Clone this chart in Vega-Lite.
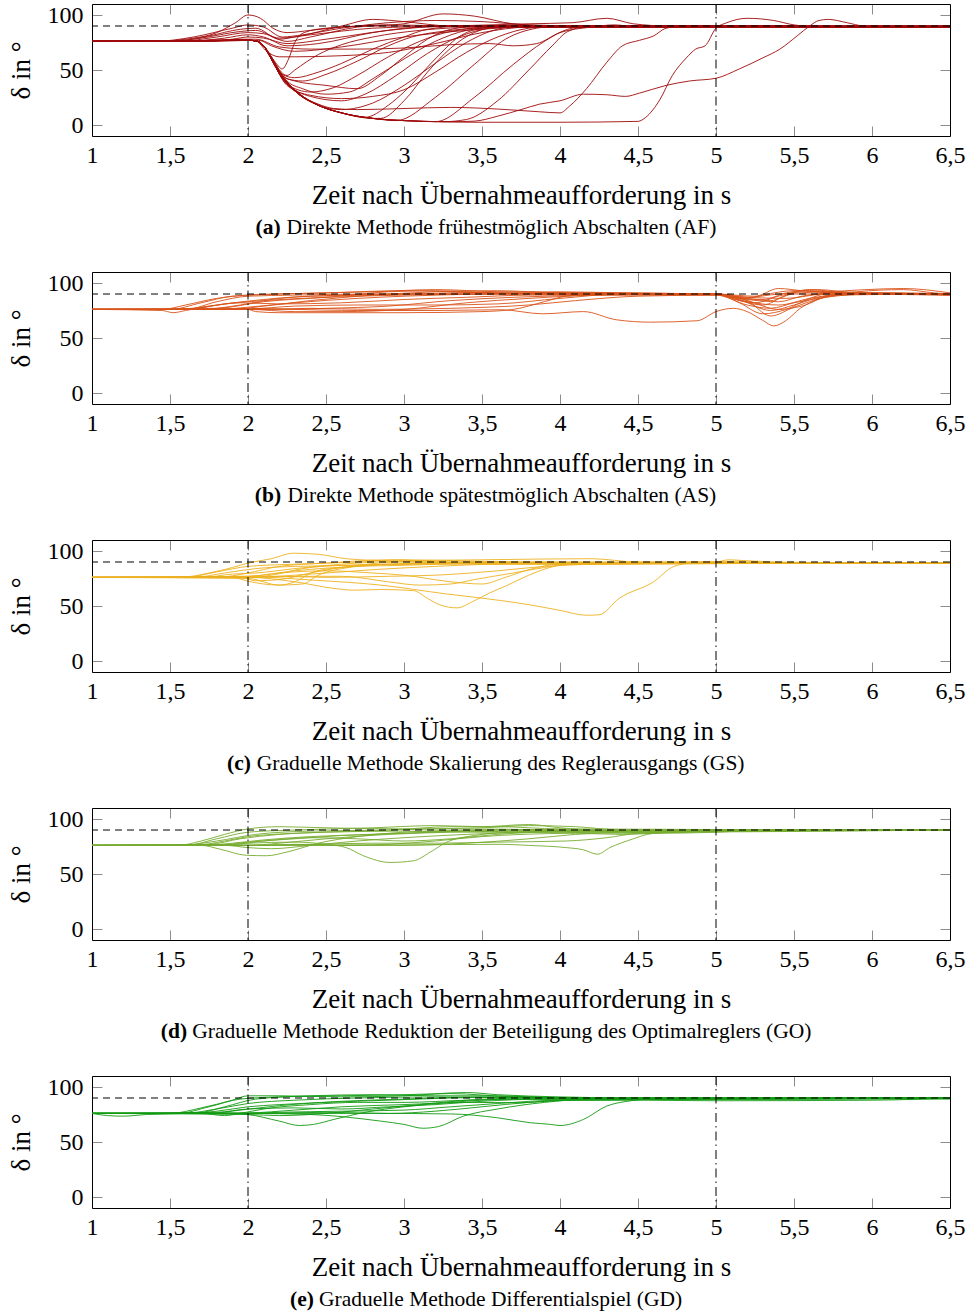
{
"$schema": "https://vega.github.io/schema/vega-lite/v6.json",
"background": "white",
"padding": {"left": 7, "top": 3, "right": 1, "bottom": 5},
"spacing": 32,
"config": {
  "font": "Liberation Serif",
  "view": {"stroke": null},
  "axis": {"labelFont": "Liberation Serif", "labelFontSize": 24, "labelColor": "black", "titleFont": "Liberation Serif", "titleFontSize": 27, "titleFontWeight": "normal", "titleColor": "black", "domainColor": "black", "domainWidth": 1, "tickColor": "#8c8c8c", "tickSize": -10, "tickWidth": 1, "grid": false, "labelFlush": false, "labelOverlap": false},
  "axisX": {"labelPadding": 17, "titlePadding": 15},
  "axisY": {"labelPadding": 19, "titlePadding": 12},
  "title": {"font": "Liberation Serif", "fontSize": 21.5, "fontWeight": "normal", "color": "black"}
},
"datasets": {
"a": [
{"c":1,"t":1,"d":76},{"c":1,"t":1.4,"d":76},{"c":1,"t":1.6,"d":78},{"c":1,"t":1.8,"d":84},{"c":1,"t":1.92,"d":93},{"c":1,"t":2,"d":100},{"c":1,"t":2.08,"d":97},{"c":1,"t":2.16,"d":88},{"c":1,"t":2.25,"d":84},{"c":1,"t":2.4,"d":86},{"c":1,"t":2.6,"d":89},{"c":1,"t":2.9,"d":91},{"c":1,"t":3.3,"d":90},{"c":1,"t":4,"d":89.5},{"c":1,"t":6.5,"d":89},
{"c":2,"t":1,"d":76},{"c":2,"t":1.4,"d":76},{"c":2,"t":1.65,"d":80},{"c":2,"t":1.9,"d":88},{"c":2,"t":2,"d":91},{"c":2,"t":2.1,"d":89},{"c":2,"t":2.22,"d":80},{"c":2,"t":2.35,"d":82},{"c":2,"t":2.6,"d":88},{"c":2,"t":2.9,"d":93},{"c":2,"t":3.2,"d":95},{"c":2,"t":3.5,"d":94},{"c":2,"t":3.8,"d":91},{"c":2,"t":4.2,"d":90},{"c":2,"t":6.5,"d":90},
{"c":3,"t":1,"d":76},{"c":3,"t":1.5,"d":76},{"c":3,"t":1.75,"d":81},{"c":3,"t":1.95,"d":87},{"c":3,"t":2.05,"d":88},{"c":3,"t":2.2,"d":78},{"c":3,"t":2.3,"d":80},{"c":3,"t":2.6,"d":90},{"c":3,"t":2.8,"d":96},{"c":3,"t":3,"d":94},{"c":3,"t":3.3,"d":90},{"c":3,"t":6.5,"d":90},
{"c":4,"t":1,"d":76},{"c":4,"t":1.55,"d":76},{"c":4,"t":1.8,"d":80},{"c":4,"t":2,"d":84},{"c":4,"t":2.1,"d":83},{"c":4,"t":2.25,"d":76},{"c":4,"t":2.4,"d":80},{"c":4,"t":2.7,"d":89},{"c":4,"t":3,"d":92},{"c":4,"t":3.25,"d":101},{"c":4,"t":3.45,"d":99},{"c":4,"t":3.7,"d":92},{"c":4,"t":4,"d":90},{"c":4,"t":6.5,"d":90},
{"c":5,"t":1,"d":76},{"c":5,"t":1.6,"d":76},{"c":5,"t":1.85,"d":79},{"c":5,"t":2,"d":82},{"c":5,"t":2.1,"d":80},{"c":5,"t":2.25,"d":72},{"c":5,"t":2.45,"d":74},{"c":5,"t":2.8,"d":84},{"c":5,"t":3.1,"d":89},{"c":5,"t":3.5,"d":90},{"c":5,"t":6.5,"d":90},
{"c":6,"t":1,"d":76},{"c":6,"t":1.7,"d":76},{"c":6,"t":1.9,"d":78},{"c":6,"t":2,"d":80},{"c":6,"t":2.1,"d":79},{"c":6,"t":2.25,"d":74},{"c":6,"t":2.5,"d":78},{"c":6,"t":2.9,"d":86},{"c":6,"t":3.3,"d":90},{"c":6,"t":6.5,"d":89},
{"c":7,"t":1,"d":76},{"c":7,"t":1.75,"d":76},{"c":7,"t":1.95,"d":78},{"c":7,"t":2.05,"d":78},{"c":7,"t":2.2,"d":71},{"c":7,"t":2.4,"d":69},{"c":7,"t":2.7,"d":69},{"c":7,"t":3,"d":70},{"c":7,"t":3.3,"d":73},{"c":7,"t":3.55,"d":74},{"c":7,"t":3.7,"d":72},{"c":7,"t":3.85,"d":74},{"c":7,"t":4,"d":84},{"c":7,"t":4.2,"d":89},{"c":7,"t":4.35,"d":91},{"c":7,"t":4.5,"d":89},{"c":7,"t":6.5,"d":89},
{"c":8,"t":1,"d":76},{"c":8,"t":1.8,"d":76},{"c":8,"t":2,"d":77},{"c":8,"t":2.07,"d":77},{"c":8,"t":2.15,"d":72},{"c":8,"t":2.3,"d":67},{"c":8,"t":2.6,"d":71},{"c":8,"t":3,"d":80},{"c":8,"t":3.4,"d":86},{"c":8,"t":3.8,"d":89},{"c":8,"t":6.5,"d":89},
{"c":9,"t":1,"d":76},{"c":9,"t":1.5,"d":76},{"c":9,"t":1.7,"d":79},{"c":9,"t":1.95,"d":85},{"c":9,"t":2.05,"d":86},{"c":9,"t":2.2,"d":79},{"c":9,"t":2.4,"d":82},{"c":9,"t":2.8,"d":88},{"c":9,"t":3.3,"d":90},{"c":9,"t":3.8,"d":92},{"c":9,"t":4.08,"d":93},{"c":9,"t":4.3,"d":97},{"c":9,"t":4.47,"d":92},{"c":9,"t":4.7,"d":90},{"c":9,"t":6.5,"d":90},
{"c":10,"t":1,"d":76},{"c":10,"t":2,"d":77},{"c":10,"t":2.05,"d":76.5},{"c":10,"t":2.1,"d":72},{"c":10,"t":2.15,"d":60},{"c":10,"t":2.2,"d":48},{"c":10,"t":2.3,"d":32},{"c":10,"t":2.45,"d":18},{"c":10,"t":2.6,"d":11},{"c":10,"t":2.8,"d":6},{"c":10,"t":3,"d":4},{"c":10,"t":3.5,"d":2.5},{"c":10,"t":4,"d":2.5},{"c":10,"t":4.5,"d":3.3},{"c":10,"t":4.55,"d":7},{"c":10,"t":4.64,"d":23},{"c":10,"t":4.72,"d":45},{"c":10,"t":4.81,"d":61},{"c":10,"t":4.87,"d":69},{"c":10,"t":4.93,"d":72},{"c":10,"t":5,"d":88},{"c":10,"t":5.07,"d":93},{"c":10,"t":5.2,"d":97},{"c":10,"t":5.37,"d":95},{"c":10,"t":5.5,"d":91},{"c":10,"t":5.7,"d":89},{"c":10,"t":6.5,"d":89},
{"c":11,"t":1,"d":76},{"c":11,"t":2,"d":77},{"c":11,"t":2.05,"d":76.5},{"c":11,"t":2.1,"d":72},{"c":11,"t":2.15,"d":60},{"c":11,"t":2.2,"d":47},{"c":11,"t":2.3,"d":31},{"c":11,"t":2.45,"d":18},{"c":11,"t":2.6,"d":11},{"c":11,"t":2.8,"d":6},{"c":11,"t":3,"d":4},{"c":11,"t":3.3,"d":3},{"c":11,"t":3.45,"d":3.5},{"c":11,"t":3.6,"d":8},{"c":11,"t":3.75,"d":14},{"c":11,"t":3.87,"d":19},{"c":11,"t":4,"d":22},{"c":11,"t":4.15,"d":28},{"c":11,"t":4.3,"d":27.5},{"c":11,"t":4.42,"d":26},{"c":11,"t":4.51,"d":29},{"c":11,"t":4.68,"d":36},{"c":11,"t":4.83,"d":40},{"c":11,"t":5,"d":42.5},{"c":11,"t":5.15,"d":51},{"c":11,"t":5.3,"d":61},{"c":11,"t":5.41,"d":69},{"c":11,"t":5.52,"d":81},{"c":11,"t":5.6,"d":90},{"c":11,"t":5.66,"d":95},{"c":11,"t":5.72,"d":96},{"c":11,"t":5.84,"d":93},{"c":11,"t":5.95,"d":90},{"c":11,"t":6.5,"d":89},
{"c":12,"t":1,"d":76},{"c":12,"t":2,"d":77},{"c":12,"t":2.05,"d":76.5},{"c":12,"t":2.1,"d":72},{"c":12,"t":2.15,"d":60},{"c":12,"t":2.2,"d":47},{"c":12,"t":2.3,"d":31},{"c":12,"t":2.45,"d":19},{"c":12,"t":2.55,"d":15},{"c":12,"t":2.7,"d":14},{"c":12,"t":3,"d":15},{"c":12,"t":3.3,"d":16},{"c":12,"t":3.6,"d":14.5},{"c":12,"t":3.87,"d":12},{"c":12,"t":4,"d":11},{"c":12,"t":4.06,"d":17},{"c":12,"t":4.17,"d":33},{"c":12,"t":4.3,"d":57},{"c":12,"t":4.4,"d":72},{"c":12,"t":4.51,"d":77},{"c":12,"t":4.6,"d":81},{"c":12,"t":4.68,"d":88},{"c":12,"t":4.8,"d":90},{"c":12,"t":6.5,"d":89},
{"c":13,"t":1,"d":76},{"c":13,"t":2,"d":77},{"c":13,"t":2.05,"d":76.5},{"c":13,"t":2.1,"d":72},{"c":13,"t":2.15,"d":60},{"c":13,"t":2.2,"d":47},{"c":13,"t":2.3,"d":31},{"c":13,"t":2.45,"d":18},{"c":13,"t":2.6,"d":11},{"c":13,"t":2.75,"d":7},{"c":13,"t":2.9,"d":18},{"c":13,"t":3,"d":30},{"c":13,"t":3.2,"d":60},{"c":13,"t":3.35,"d":80},{"c":13,"t":3.5,"d":88},{"c":13,"t":3.7,"d":90},{"c":13,"t":6.5,"d":89},
{"c":14,"t":1,"d":76},{"c":14,"t":2,"d":77},{"c":14,"t":2.05,"d":76.5},{"c":14,"t":2.1,"d":72},{"c":14,"t":2.15,"d":60},{"c":14,"t":2.2,"d":48},{"c":14,"t":2.3,"d":32},{"c":14,"t":2.45,"d":18},{"c":14,"t":2.6,"d":11},{"c":14,"t":2.8,"d":6},{"c":14,"t":2.95,"d":4},{"c":14,"t":3.2,"d":25},{"c":14,"t":3.45,"d":55},{"c":14,"t":3.65,"d":78},{"c":14,"t":3.85,"d":88},{"c":14,"t":4,"d":90},{"c":14,"t":6.5,"d":89},
{"c":15,"t":1,"d":76},{"c":15,"t":2,"d":77},{"c":15,"t":2.05,"d":76.5},{"c":15,"t":2.1,"d":72},{"c":15,"t":2.15,"d":60},{"c":15,"t":2.2,"d":47},{"c":15,"t":2.3,"d":31},{"c":15,"t":2.45,"d":18},{"c":15,"t":2.6,"d":11},{"c":15,"t":2.8,"d":6},{"c":15,"t":3,"d":4},{"c":15,"t":3.2,"d":3},{"c":15,"t":3.45,"d":25},{"c":15,"t":3.7,"d":55},{"c":15,"t":3.9,"d":76},{"c":15,"t":4.05,"d":87},{"c":15,"t":4.2,"d":90},{"c":15,"t":6.5,"d":89},
{"c":16,"t":1,"d":76},{"c":16,"t":2,"d":77},{"c":16,"t":2.05,"d":76.5},{"c":16,"t":2.1,"d":72},{"c":16,"t":2.15,"d":60},{"c":16,"t":2.2,"d":48},{"c":16,"t":2.3,"d":32},{"c":16,"t":2.45,"d":18},{"c":16,"t":2.6,"d":11},{"c":16,"t":2.8,"d":6},{"c":16,"t":3,"d":4},{"c":16,"t":3.25,"d":3},{"c":16,"t":3.4,"d":5},{"c":16,"t":3.6,"d":22},{"c":16,"t":3.8,"d":50},{"c":16,"t":3.95,"d":72},{"c":16,"t":4.05,"d":85},{"c":16,"t":4.2,"d":90},{"c":16,"t":6.5,"d":89},
{"c":17,"t":1,"d":76},{"c":17,"t":2,"d":77},{"c":17,"t":2.05,"d":76.5},{"c":17,"t":2.1,"d":72},{"c":17,"t":2.15,"d":60},{"c":17,"t":2.2,"d":47},{"c":17,"t":2.3,"d":31},{"c":17,"t":2.45,"d":18},{"c":17,"t":2.6,"d":11},{"c":17,"t":2.8,"d":6},{"c":17,"t":2.85,"d":6},{"c":17,"t":3,"d":22},{"c":17,"t":3.15,"d":48},{"c":17,"t":3.3,"d":70},{"c":17,"t":3.45,"d":84},{"c":17,"t":3.6,"d":89},{"c":17,"t":6.5,"d":89},
{"c":18,"t":1,"d":76},{"c":18,"t":2,"d":77},{"c":18,"t":2.05,"d":76.5},{"c":18,"t":2.1,"d":72},{"c":18,"t":2.17,"d":58},{"c":18,"t":2.22,"d":51},{"c":18,"t":2.26,"d":60},{"c":18,"t":2.3,"d":75},{"c":18,"t":2.36,"d":84},{"c":18,"t":2.5,"d":88},{"c":18,"t":2.8,"d":90},{"c":18,"t":6.5,"d":89},
{"c":19,"t":1,"d":76},{"c":19,"t":2,"d":77},{"c":19,"t":2.05,"d":76.5},{"c":19,"t":2.1,"d":72},{"c":19,"t":2.15,"d":62},{"c":19,"t":2.22,"d":46},{"c":19,"t":2.3,"d":43},{"c":19,"t":2.45,"d":48},{"c":19,"t":2.6,"d":56},{"c":19,"t":2.8,"d":69},{"c":19,"t":3,"d":80},{"c":19,"t":3.15,"d":87},{"c":19,"t":3.4,"d":90},{"c":19,"t":6.5,"d":89},
{"c":20,"t":1,"d":76},{"c":20,"t":2,"d":77},{"c":20,"t":2.05,"d":76.5},{"c":20,"t":2.1,"d":72},{"c":20,"t":2.15,"d":62},{"c":20,"t":2.22,"d":45},{"c":20,"t":2.3,"d":40},{"c":20,"t":2.5,"d":36},{"c":20,"t":2.7,"d":33},{"c":20,"t":2.85,"d":45},{"c":20,"t":3,"d":62},{"c":20,"t":3.15,"d":78},{"c":20,"t":3.3,"d":87},{"c":20,"t":3.5,"d":90},{"c":20,"t":6.5,"d":89},
{"c":21,"t":1,"d":76},{"c":21,"t":2,"d":77},{"c":21,"t":2.05,"d":76.5},{"c":21,"t":2.1,"d":72},{"c":21,"t":2.15,"d":61},{"c":21,"t":2.25,"d":40},{"c":21,"t":2.35,"d":33},{"c":21,"t":2.5,"d":28},{"c":21,"t":2.65,"d":30},{"c":21,"t":2.8,"d":42},{"c":21,"t":3,"d":60},{"c":21,"t":3.2,"d":76},{"c":21,"t":3.4,"d":86},{"c":21,"t":3.6,"d":89},{"c":21,"t":6.5,"d":89},
{"c":22,"t":1,"d":76},{"c":22,"t":2,"d":77},{"c":22,"t":2.05,"d":76.5},{"c":22,"t":2.1,"d":72},{"c":22,"t":2.15,"d":60},{"c":22,"t":2.25,"d":38},{"c":22,"t":2.4,"d":26},{"c":22,"t":2.6,"d":22},{"c":22,"t":2.75,"d":28},{"c":22,"t":2.95,"d":45},{"c":22,"t":3.15,"d":65},{"c":22,"t":3.35,"d":80},{"c":22,"t":3.55,"d":88},{"c":22,"t":3.8,"d":90},{"c":22,"t":6.5,"d":89},
{"c":23,"t":1,"d":76},{"c":23,"t":2,"d":77},{"c":23,"t":2.05,"d":76.5},{"c":23,"t":2.1,"d":72},{"c":23,"t":2.15,"d":61},{"c":23,"t":2.25,"d":42},{"c":23,"t":2.35,"d":40},{"c":23,"t":2.5,"d":46},{"c":23,"t":2.7,"d":58},{"c":23,"t":2.9,"d":72},{"c":23,"t":3.05,"d":80},{"c":23,"t":3.3,"d":86},{"c":23,"t":3.6,"d":89},{"c":23,"t":6.5,"d":89},
{"c":24,"t":1,"d":76},{"c":24,"t":2,"d":77},{"c":24,"t":2.05,"d":76.5},{"c":24,"t":2.1,"d":72},{"c":24,"t":2.15,"d":60},{"c":24,"t":2.25,"d":37},{"c":24,"t":2.4,"d":30},{"c":24,"t":2.55,"d":34},{"c":24,"t":2.7,"d":45},{"c":24,"t":2.9,"d":62},{"c":24,"t":3.1,"d":76},{"c":24,"t":3.3,"d":85},{"c":24,"t":3.6,"d":89},{"c":24,"t":6.5,"d":89},
{"c":25,"t":1,"d":76},{"c":25,"t":2,"d":77},{"c":25,"t":2.05,"d":76.5},{"c":25,"t":2.1,"d":72},{"c":25,"t":2.15,"d":61},{"c":25,"t":2.25,"d":45},{"c":25,"t":2.3,"d":50},{"c":25,"t":2.45,"d":64},{"c":25,"t":2.6,"d":73},{"c":25,"t":2.8,"d":80},{"c":25,"t":3.1,"d":86},{"c":25,"t":3.5,"d":89},{"c":25,"t":6.5,"d":89},
{"c":26,"t":1,"d":76},{"c":26,"t":2,"d":77},{"c":26,"t":2.05,"d":76.5},{"c":26,"t":2.12,"d":67},{"c":26,"t":2.2,"d":62},{"c":26,"t":2.3,"d":62},{"c":26,"t":2.6,"d":63},{"c":26,"t":2.9,"d":66},{"c":26,"t":3.2,"d":74},{"c":26,"t":3.5,"d":84},{"c":26,"t":3.8,"d":89},{"c":26,"t":6.5,"d":89},
{"c":27,"t":1,"d":76},{"c":27,"t":2,"d":77},{"c":27,"t":2.05,"d":76.5},{"c":27,"t":2.1,"d":72},{"c":27,"t":2.15,"d":60},{"c":27,"t":2.25,"d":36},{"c":27,"t":2.4,"d":27},{"c":27,"t":2.6,"d":24},{"c":27,"t":2.8,"d":26},{"c":27,"t":3,"d":32},{"c":27,"t":3.2,"d":48},{"c":27,"t":3.4,"d":66},{"c":27,"t":3.6,"d":80},{"c":27,"t":3.8,"d":88},{"c":27,"t":4,"d":90},{"c":27,"t":6.5,"d":89},
{"c":28,"t":1,"d":76},{"c":28,"t":2,"d":77},{"c":28,"t":2.05,"d":76.5},{"c":28,"t":2.1,"d":72},{"c":28,"t":2.15,"d":60},{"c":28,"t":2.2,"d":47},{"c":28,"t":2.3,"d":31},{"c":28,"t":2.45,"d":18},{"c":28,"t":2.6,"d":14},{"c":28,"t":2.8,"d":20},{"c":28,"t":3,"d":36},{"c":28,"t":3.2,"d":56},{"c":28,"t":3.4,"d":75},{"c":28,"t":3.55,"d":85},{"c":28,"t":3.75,"d":90},{"c":28,"t":6.5,"d":89}
],
"b": [
{"c":1,"t":1,"d":76},{"c":1,"t":1.45,"d":76},{"c":1,"t":1.6,"d":80},{"c":1,"t":1.8,"d":86},{"c":1,"t":2,"d":89},{"c":1,"t":2.5,"d":91},{"c":1,"t":3,"d":93},{"c":1,"t":3.5,"d":91},{"c":1,"t":4,"d":90},{"c":1,"t":5,"d":89.5},{"c":1,"t":5.1,"d":86},{"c":1,"t":5.25,"d":82},{"c":1,"t":5.4,"d":88},{"c":1,"t":5.6,"d":93},{"c":1,"t":5.8,"d":91},{"c":1,"t":6.5,"d":89},
{"c":2,"t":1,"d":76},{"c":2,"t":1.5,"d":76},{"c":2,"t":1.7,"d":82},{"c":2,"t":1.9,"d":88},{"c":2,"t":2.2,"d":90},{"c":2,"t":2.8,"d":92},{"c":2,"t":3.2,"d":94},{"c":2,"t":3.6,"d":92},{"c":2,"t":4.2,"d":91},{"c":2,"t":5,"d":90},{"c":2,"t":5.15,"d":84},{"c":2,"t":5.3,"d":80},{"c":2,"t":5.45,"d":89},{"c":2,"t":5.6,"d":94},{"c":2,"t":5.9,"d":90},{"c":2,"t":6.5,"d":90},
{"c":3,"t":1,"d":76},{"c":3,"t":1.45,"d":75},{"c":3,"t":1.52,"d":73},{"c":3,"t":1.6,"d":75},{"c":3,"t":1.8,"d":80},{"c":3,"t":2.1,"d":84},{"c":3,"t":2.5,"d":87},{"c":3,"t":3,"d":89},{"c":3,"t":3.5,"d":90},{"c":3,"t":5,"d":90},{"c":3,"t":5.15,"d":85},{"c":3,"t":5.35,"d":75},{"c":3,"t":5.5,"d":80},{"c":3,"t":5.7,"d":88},{"c":3,"t":6,"d":90},{"c":3,"t":6.5,"d":89},
{"c":4,"t":1,"d":76},{"c":4,"t":1.6,"d":76},{"c":4,"t":1.85,"d":81},{"c":4,"t":2.1,"d":85},{"c":4,"t":2.4,"d":88},{"c":4,"t":2.8,"d":89},{"c":4,"t":3.3,"d":91},{"c":4,"t":4,"d":92},{"c":4,"t":4.4,"d":91},{"c":4,"t":5,"d":90},{"c":4,"t":5.2,"d":84},{"c":4,"t":5.35,"d":70},{"c":4,"t":5.5,"d":78},{"c":4,"t":5.7,"d":87},{"c":4,"t":6,"d":91},{"c":4,"t":6.5,"d":89},
{"c":5,"t":1,"d":76},{"c":5,"t":1.7,"d":76},{"c":5,"t":2,"d":77},{"c":5,"t":2.3,"d":76},{"c":5,"t":2.7,"d":75},{"c":5,"t":3.2,"d":75},{"c":5,"t":3.62,"d":75.7},{"c":5,"t":3.89,"d":72},{"c":5,"t":4.15,"d":74},{"c":5,"t":4.36,"d":66.6},{"c":5,"t":4.58,"d":64.4},{"c":5,"t":4.88,"d":65.7},{"c":5,"t":5,"d":74},{"c":5,"t":5.11,"d":77},{"c":5,"t":5.2,"d":74},{"c":5,"t":5.3,"d":66},{"c":5,"t":5.37,"d":61},{"c":5,"t":5.45,"d":66},{"c":5,"t":5.54,"d":77},{"c":5,"t":5.67,"d":86},{"c":5,"t":5.86,"d":91},{"c":5,"t":6.2,"d":91},{"c":5,"t":6.5,"d":90},
{"c":6,"t":1,"d":76},{"c":6,"t":1.8,"d":76},{"c":6,"t":2,"d":78},{"c":6,"t":2.3,"d":82},{"c":6,"t":2.7,"d":86},{"c":6,"t":3,"d":88},{"c":6,"t":3.5,"d":90},{"c":6,"t":4,"d":91},{"c":6,"t":5,"d":90},{"c":6,"t":5.15,"d":82},{"c":6,"t":5.3,"d":72},{"c":6,"t":5.45,"d":76},{"c":6,"t":5.6,"d":86},{"c":6,"t":5.8,"d":92},{"c":6,"t":6.1,"d":90},{"c":6,"t":6.5,"d":90},
{"c":7,"t":1,"d":76},{"c":7,"t":2,"d":76},{"c":7,"t":2.05,"d":74},{"c":7,"t":2.2,"d":73},{"c":7,"t":2.5,"d":73},{"c":7,"t":3,"d":73},{"c":7,"t":3.5,"d":74},{"c":7,"t":3.7,"d":76},{"c":7,"t":3.9,"d":83},{"c":7,"t":4.04,"d":88},{"c":7,"t":4.3,"d":90},{"c":7,"t":5,"d":90},{"c":7,"t":5.2,"d":86},{"c":7,"t":5.35,"d":84},{"c":7,"t":5.5,"d":90},{"c":7,"t":6.5,"d":90},
{"c":8,"t":1,"d":76},{"c":8,"t":1.9,"d":76},{"c":8,"t":2.1,"d":79},{"c":8,"t":2.4,"d":84},{"c":8,"t":2.8,"d":89},{"c":8,"t":3.2,"d":92},{"c":8,"t":3.6,"d":93},{"c":8,"t":4,"d":91},{"c":8,"t":5,"d":90},{"c":8,"t":5.25,"d":88},{"c":8,"t":5.4,"d":95},{"c":8,"t":5.55,"d":93},{"c":8,"t":5.9,"d":90},{"c":8,"t":6.5,"d":90},
{"c":9,"t":1,"d":76},{"c":9,"t":1.55,"d":76},{"c":9,"t":1.75,"d":79},{"c":9,"t":1.95,"d":82},{"c":9,"t":2.2,"d":81},{"c":9,"t":2.6,"d":82},{"c":9,"t":3,"d":85},{"c":9,"t":3.4,"d":87},{"c":9,"t":3.8,"d":89},{"c":9,"t":5,"d":89.5},{"c":9,"t":5.2,"d":83},{"c":9,"t":5.4,"d":80},{"c":9,"t":5.6,"d":86},{"c":9,"t":5.9,"d":92},{"c":9,"t":6.2,"d":94},{"c":9,"t":6.4,"d":91},{"c":9,"t":6.5,"d":90},
{"c":10,"t":1,"d":76},{"c":10,"t":2,"d":76.5},{"c":10,"t":2.3,"d":79},{"c":10,"t":2.7,"d":80},{"c":10,"t":3.2,"d":80},{"c":10,"t":3.6,"d":81},{"c":10,"t":4,"d":86},{"c":10,"t":4.4,"d":90},{"c":10,"t":5,"d":90},{"c":10,"t":5.2,"d":85},{"c":10,"t":5.4,"d":83},{"c":10,"t":5.55,"d":88},{"c":10,"t":5.75,"d":91},{"c":10,"t":6.5,"d":90},
{"c":11,"t":1,"d":76},{"c":11,"t":1.7,"d":76},{"c":11,"t":1.95,"d":80},{"c":11,"t":2.2,"d":86},{"c":11,"t":2.6,"d":89},{"c":11,"t":3,"d":90},{"c":11,"t":5,"d":90},{"c":11,"t":5.2,"d":87},{"c":11,"t":5.4,"d":90},{"c":11,"t":5.7,"d":92},{"c":11,"t":6.2,"d":95},{"c":11,"t":6.5,"d":91},
{"c":12,"t":1,"d":76},{"c":12,"t":2.1,"d":76},{"c":12,"t":2.4,"d":77},{"c":12,"t":2.8,"d":76},{"c":12,"t":3.3,"d":77},{"c":12,"t":3.8,"d":80},{"c":12,"t":4.1,"d":84},{"c":12,"t":4.5,"d":88},{"c":12,"t":5,"d":89},{"c":12,"t":5.2,"d":80},{"c":12,"t":5.35,"d":77},{"c":12,"t":5.5,"d":82},{"c":12,"t":5.7,"d":87},{"c":12,"t":6,"d":90},{"c":12,"t":6.5,"d":90},
{"c":13,"t":1,"d":76},{"c":13,"t":1.8,"d":77},{"c":13,"t":2.1,"d":83},{"c":13,"t":2.5,"d":87},{"c":13,"t":2.9,"d":92},{"c":13,"t":3.2,"d":93},{"c":13,"t":3.6,"d":91},{"c":13,"t":4,"d":90},{"c":13,"t":5,"d":89.5},{"c":13,"t":5.15,"d":86},{"c":13,"t":5.3,"d":85},{"c":13,"t":5.45,"d":91},{"c":13,"t":5.65,"d":94},{"c":13,"t":5.9,"d":91},{"c":13,"t":6.5,"d":90},
{"c":14,"t":1,"d":76},{"c":14,"t":2,"d":76},{"c":14,"t":2.3,"d":74},{"c":14,"t":2.6,"d":74},{"c":14,"t":3,"d":76},{"c":14,"t":3.4,"d":82},{"c":14,"t":3.8,"d":86},{"c":14,"t":4.3,"d":89},{"c":14,"t":5,"d":89},{"c":14,"t":5.2,"d":84},{"c":14,"t":5.4,"d":76},{"c":14,"t":5.55,"d":79},{"c":14,"t":5.75,"d":89},{"c":14,"t":6.5,"d":90},
{"c":15,"t":1,"d":76},{"c":15,"t":1.6,"d":76},{"c":15,"t":1.8,"d":83},{"c":15,"t":2,"d":88},{"c":15,"t":2.3,"d":89},{"c":15,"t":2.8,"d":90},{"c":15,"t":3.4,"d":90},{"c":15,"t":4.3,"d":90},{"c":15,"t":5,"d":90},{"c":15,"t":5.2,"d":86},{"c":15,"t":5.3,"d":89},{"c":15,"t":5.5,"d":93},{"c":15,"t":5.8,"d":91},{"c":15,"t":6.5,"d":90},
{"c":16,"t":1,"d":76},{"c":16,"t":2.2,"d":76},{"c":16,"t":2.5,"d":77},{"c":16,"t":2.9,"d":79},{"c":16,"t":3.3,"d":84},{"c":16,"t":3.7,"d":87},{"c":16,"t":4.2,"d":89},{"c":16,"t":5,"d":90},{"c":16,"t":5.2,"d":87},{"c":16,"t":5.45,"d":86},{"c":16,"t":5.7,"d":90},{"c":16,"t":6.5,"d":90}
],
"c": [
{"c":1,"t":1,"d":76},{"c":1,"t":1.56,"d":76},{"c":1,"t":1.75,"d":80},{"c":1,"t":1.9,"d":85},{"c":1,"t":2,"d":89},{"c":1,"t":2.15,"d":93},{"c":1,"t":2.29,"d":98},{"c":1,"t":2.45,"d":97},{"c":1,"t":2.63,"d":93},{"c":1,"t":2.9,"d":91},{"c":1,"t":3.5,"d":89},{"c":1,"t":6.5,"d":89},
{"c":2,"t":1,"d":76},{"c":2,"t":1.6,"d":76},{"c":2,"t":1.8,"d":81},{"c":2,"t":2,"d":86},{"c":2,"t":2.3,"d":88},{"c":2,"t":2.7,"d":90},{"c":2,"t":3,"d":92},{"c":2,"t":3.4,"d":91},{"c":2,"t":4,"d":89},{"c":2,"t":5,"d":90},{"c":2,"t":5.08,"d":92},{"c":2,"t":5.3,"d":90},{"c":2,"t":6.5,"d":89},
{"c":3,"t":1,"d":76},{"c":3,"t":1.65,"d":76},{"c":3,"t":1.85,"d":80},{"c":3,"t":2.05,"d":84},{"c":3,"t":2.3,"d":86},{"c":3,"t":2.7,"d":87},{"c":3,"t":3.1,"d":89},{"c":3,"t":3.6,"d":90},{"c":3,"t":6.5,"d":89},
{"c":4,"t":1,"d":76},{"c":4,"t":1.7,"d":76},{"c":4,"t":1.9,"d":79},{"c":4,"t":2.05,"d":80},{"c":4,"t":2.3,"d":84},{"c":4,"t":2.6,"d":88},{"c":4,"t":3,"d":91},{"c":4,"t":3.5,"d":92},{"c":4,"t":4.2,"d":93},{"c":4,"t":4.5,"d":90},{"c":4,"t":5,"d":90},{"c":4,"t":5.2,"d":91},{"c":4,"t":5.5,"d":89},{"c":4,"t":6.5,"d":89},
{"c":5,"t":1,"d":76},{"c":5,"t":2,"d":76.6},{"c":5,"t":2.42,"d":73.5},{"c":5,"t":2.85,"d":69},{"c":5,"t":3.27,"d":61},{"c":5,"t":3.62,"d":55},{"c":5,"t":3.81,"d":51},{"c":5,"t":4,"d":46},{"c":5,"t":4.17,"d":41.6},{"c":5,"t":4.25,"d":42},{"c":5,"t":4.38,"d":57},{"c":5,"t":4.6,"d":72},{"c":5,"t":4.73,"d":86},{"c":5,"t":4.85,"d":89},{"c":5,"t":6.5,"d":89},
{"c":6,"t":1,"d":76},{"c":6,"t":2,"d":76},{"c":6,"t":2.3,"d":72},{"c":6,"t":2.55,"d":66},{"c":6,"t":2.68,"d":64.4},{"c":6,"t":2.85,"d":65},{"c":6,"t":3.06,"d":64},{"c":6,"t":3.15,"d":57},{"c":6,"t":3.23,"d":51},{"c":6,"t":3.34,"d":48.3},{"c":6,"t":3.44,"d":54},{"c":6,"t":3.55,"d":62},{"c":6,"t":3.65,"d":68},{"c":6,"t":3.8,"d":78},{"c":6,"t":3.96,"d":86},{"c":6,"t":4.1,"d":89},{"c":6,"t":6.5,"d":89},
{"c":7,"t":1,"d":76},{"c":7,"t":2,"d":75},{"c":7,"t":2.2,"d":69},{"c":7,"t":2.35,"d":70},{"c":7,"t":2.45,"d":78},{"c":7,"t":2.6,"d":84},{"c":7,"t":2.9,"d":88},{"c":7,"t":3.3,"d":89},{"c":7,"t":6.5,"d":89},
{"c":8,"t":1,"d":76},{"c":8,"t":2,"d":76},{"c":8,"t":2.3,"d":77},{"c":8,"t":2.6,"d":77},{"c":8,"t":2.9,"d":72},{"c":8,"t":3.1,"d":69},{"c":8,"t":3.3,"d":70},{"c":8,"t":3.45,"d":74},{"c":8,"t":3.7,"d":80},{"c":8,"t":3.9,"d":85},{"c":8,"t":4.1,"d":88},{"c":8,"t":6.5,"d":89},
{"c":9,"t":1,"d":76},{"c":9,"t":2,"d":76},{"c":9,"t":2.4,"d":79},{"c":9,"t":2.8,"d":83},{"c":9,"t":3.2,"d":86},{"c":9,"t":3.6,"d":88},{"c":9,"t":6.5,"d":89},
{"c":10,"t":1,"d":76},{"c":10,"t":1.95,"d":76},{"c":10,"t":2.05,"d":73},{"c":10,"t":2.2,"d":74},{"c":10,"t":2.4,"d":80},{"c":10,"t":2.7,"d":87},{"c":10,"t":3,"d":90},{"c":10,"t":6.5,"d":89},
{"c":11,"t":1,"d":76},{"c":11,"t":2,"d":77},{"c":11,"t":2.2,"d":80},{"c":11,"t":2.5,"d":82},{"c":11,"t":2.8,"d":80},{"c":11,"t":3,"d":78},{"c":11,"t":3.3,"d":72},{"c":11,"t":3.5,"d":70},{"c":11,"t":3.65,"d":76},{"c":11,"t":3.8,"d":83},{"c":11,"t":4,"d":88},{"c":11,"t":6.5,"d":89},
{"c":12,"t":1,"d":76},{"c":12,"t":2,"d":77},{"c":12,"t":2.3,"d":82},{"c":12,"t":2.7,"d":86},{"c":12,"t":3,"d":87},{"c":12,"t":3.5,"d":89},{"c":12,"t":6.5,"d":89},
{"c":13,"t":1,"d":76},{"c":13,"t":2,"d":76},{"c":13,"t":2.2,"d":77},{"c":13,"t":2.5,"d":76},{"c":13,"t":2.9,"d":77},{"c":13,"t":3.2,"d":78},{"c":13,"t":3.6,"d":82},{"c":13,"t":3.9,"d":86},{"c":13,"t":4.2,"d":88},{"c":13,"t":4.5,"d":89},{"c":13,"t":6.5,"d":89},
{"c":14,"t":1,"d":76},{"c":14,"t":1.8,"d":76},{"c":14,"t":2,"d":80},{"c":14,"t":2.2,"d":86},{"c":14,"t":2.5,"d":89},{"c":14,"t":2.9,"d":92},{"c":14,"t":3.3,"d":90},{"c":14,"t":6.5,"d":89},
{"c":15,"t":1,"d":76},{"c":15,"t":2,"d":76},{"c":15,"t":2.15,"d":78},{"c":15,"t":2.35,"d":84},{"c":15,"t":2.6,"d":87},{"c":15,"t":3,"d":88},{"c":15,"t":4,"d":88},{"c":15,"t":4.5,"d":88.5},{"c":15,"t":5,"d":90},{"c":15,"t":5.3,"d":89},{"c":15,"t":6.5,"d":89},
{"c":16,"t":1,"d":76},{"c":16,"t":1.9,"d":76},{"c":16,"t":2,"d":72.5},{"c":16,"t":2.2,"d":69},{"c":16,"t":2.3,"d":72},{"c":16,"t":2.42,"d":81},{"c":16,"t":2.6,"d":85},{"c":16,"t":3,"d":88},{"c":16,"t":3.5,"d":89},{"c":16,"t":6.5,"d":89}
],
"d": [
{"c":1,"t":1,"d":76},{"c":1,"t":1.55,"d":76},{"c":1,"t":1.7,"d":80},{"c":1,"t":1.85,"d":86},{"c":1,"t":2,"d":91},{"c":1,"t":2.2,"d":93},{"c":1,"t":2.5,"d":92},{"c":1,"t":3,"d":91},{"c":1,"t":3.5,"d":92},{"c":1,"t":3.8,"d":94},{"c":1,"t":4.1,"d":93},{"c":1,"t":4.4,"d":90},{"c":1,"t":6.5,"d":90},
{"c":2,"t":1,"d":76},{"c":2,"t":1.6,"d":76},{"c":2,"t":1.8,"d":82},{"c":2,"t":2,"d":88},{"c":2,"t":2.3,"d":90},{"c":2,"t":2.8,"d":92},{"c":2,"t":3.2,"d":94},{"c":2,"t":3.5,"d":93},{"c":2,"t":3.8,"d":95},{"c":2,"t":4,"d":92},{"c":2,"t":4.4,"d":89},{"c":2,"t":5,"d":89},{"c":2,"t":6.5,"d":90},
{"c":3,"t":1,"d":76},{"c":3,"t":1.65,"d":76},{"c":3,"t":1.85,"d":80},{"c":3,"t":2,"d":84},{"c":3,"t":2.3,"d":87},{"c":3,"t":2.7,"d":89},{"c":3,"t":3.3,"d":91},{"c":3,"t":4,"d":90},{"c":3,"t":4.6,"d":88},{"c":3,"t":5,"d":89},{"c":3,"t":6.5,"d":90},
{"c":4,"t":1,"d":76},{"c":4,"t":1.7,"d":76},{"c":4,"t":1.9,"d":78},{"c":4,"t":2.1,"d":81},{"c":4,"t":2.4,"d":84},{"c":4,"t":2.8,"d":86},{"c":4,"t":3.2,"d":88},{"c":4,"t":3.6,"d":90},{"c":4,"t":4.2,"d":90},{"c":4,"t":4.6,"d":87},{"c":4,"t":5,"d":88},{"c":4,"t":5.3,"d":90},{"c":4,"t":6.5,"d":90},
{"c":5,"t":1,"d":76},{"c":5,"t":1.7,"d":76},{"c":5,"t":1.82,"d":72.6},{"c":5,"t":1.99,"d":67},{"c":5,"t":2.12,"d":66.6},{"c":5,"t":2.25,"d":70},{"c":5,"t":2.45,"d":78},{"c":5,"t":2.7,"d":84},{"c":5,"t":3,"d":88},{"c":5,"t":3.5,"d":90},{"c":5,"t":6.5,"d":90},
{"c":6,"t":1,"d":76},{"c":6,"t":1.8,"d":76},{"c":6,"t":2,"d":78},{"c":6,"t":2.3,"d":79},{"c":6,"t":2.5,"d":77},{"c":6,"t":2.63,"d":74},{"c":6,"t":2.74,"d":66.6},{"c":6,"t":2.91,"d":60.5},{"c":6,"t":3.06,"d":62},{"c":6,"t":3.17,"d":70},{"c":6,"t":3.27,"d":78.7},{"c":6,"t":3.45,"d":85},{"c":6,"t":3.7,"d":88},{"c":6,"t":4,"d":89},{"c":6,"t":6.5,"d":90},
{"c":7,"t":1,"d":76},{"c":7,"t":2,"d":76.3},{"c":7,"t":3,"d":76.5},{"c":7,"t":3.62,"d":77},{"c":7,"t":3.8,"d":76},{"c":7,"t":4.04,"d":74},{"c":7,"t":4.15,"d":72},{"c":7,"t":4.24,"d":68},{"c":7,"t":4.32,"d":74},{"c":7,"t":4.47,"d":82},{"c":7,"t":4.56,"d":86},{"c":7,"t":4.7,"d":88},{"c":7,"t":5,"d":89},{"c":7,"t":6.5,"d":90},
{"c":8,"t":1,"d":76},{"c":8,"t":2,"d":76},{"c":8,"t":2.4,"d":77},{"c":8,"t":2.8,"d":78},{"c":8,"t":3.2,"d":78},{"c":8,"t":3.6,"d":79},{"c":8,"t":4.04,"d":80},{"c":8,"t":4.3,"d":83},{"c":8,"t":4.5,"d":87},{"c":8,"t":4.7,"d":88},{"c":8,"t":6.5,"d":90},
{"c":9,"t":1,"d":76},{"c":9,"t":1.75,"d":77},{"c":9,"t":1.95,"d":82},{"c":9,"t":2.2,"d":86},{"c":9,"t":2.5,"d":88},{"c":9,"t":3,"d":89},{"c":9,"t":3.5,"d":88},{"c":9,"t":4,"d":88},{"c":9,"t":4.4,"d":87},{"c":9,"t":5,"d":89},{"c":9,"t":6.5,"d":90},
{"c":10,"t":1,"d":76},{"c":10,"t":1.85,"d":76},{"c":10,"t":2,"d":74},{"c":10,"t":2.15,"d":73},{"c":10,"t":2.4,"d":76},{"c":10,"t":2.7,"d":80},{"c":10,"t":3,"d":83},{"c":10,"t":3.4,"d":86},{"c":10,"t":3.8,"d":88},{"c":10,"t":4.3,"d":89},{"c":10,"t":6.5,"d":90},
{"c":11,"t":1,"d":76},{"c":11,"t":1.9,"d":77},{"c":11,"t":2.1,"d":80},{"c":11,"t":2.4,"d":83},{"c":11,"t":2.7,"d":82},{"c":11,"t":3,"d":80},{"c":11,"t":3.3,"d":82},{"c":11,"t":3.6,"d":86},{"c":11,"t":3.9,"d":88},{"c":11,"t":4.4,"d":88},{"c":11,"t":6.5,"d":90},
{"c":12,"t":1,"d":76},{"c":12,"t":2.1,"d":76},{"c":12,"t":2.3,"d":77},{"c":12,"t":2.6,"d":76},{"c":12,"t":2.9,"d":77},{"c":12,"t":3.2,"d":80},{"c":12,"t":3.5,"d":84},{"c":12,"t":3.75,"d":86},{"c":12,"t":4.1,"d":87},{"c":12,"t":4.4,"d":86},{"c":12,"t":4.6,"d":87},{"c":12,"t":5,"d":89},{"c":12,"t":6.5,"d":90},
{"c":13,"t":1,"d":76},{"c":13,"t":1.6,"d":76.5},{"c":13,"t":1.8,"d":80},{"c":13,"t":2.05,"d":86},{"c":13,"t":2.4,"d":89},{"c":13,"t":2.9,"d":90},{"c":13,"t":3.3,"d":93},{"c":13,"t":3.6,"d":93},{"c":13,"t":4,"d":91},{"c":13,"t":6.5,"d":90},
{"c":14,"t":1,"d":76},{"c":14,"t":2,"d":76},{"c":14,"t":2.2,"d":78},{"c":14,"t":2.5,"d":82},{"c":14,"t":2.9,"d":86},{"c":14,"t":3.3,"d":88},{"c":14,"t":3.8,"d":89},{"c":14,"t":6.5,"d":90},
{"c":15,"t":1,"d":76},{"c":15,"t":1.8,"d":76},{"c":15,"t":2,"d":79},{"c":15,"t":2.3,"d":82},{"c":15,"t":2.6,"d":85},{"c":15,"t":3,"d":87},{"c":15,"t":3.4,"d":89},{"c":15,"t":6.5,"d":90},
{"c":16,"t":1,"d":76},{"c":16,"t":3,"d":76},{"c":16,"t":3.4,"d":78},{"c":16,"t":3.8,"d":82},{"c":16,"t":4.1,"d":86},{"c":16,"t":4.4,"d":88},{"c":16,"t":4.8,"d":89},{"c":16,"t":6.5,"d":90}
],
"e": [
{"c":1,"t":1,"d":76},{"c":1,"t":1.5,"d":76},{"c":1,"t":1.7,"d":81},{"c":1,"t":1.9,"d":88},{"c":1,"t":2,"d":92},{"c":1,"t":2.2,"d":92},{"c":1,"t":2.6,"d":91},{"c":1,"t":3,"d":92},{"c":1,"t":3.4,"d":95},{"c":1,"t":3.6,"d":93},{"c":1,"t":4,"d":91},{"c":1,"t":4.5,"d":90},{"c":1,"t":6.5,"d":90},
{"c":2,"t":1,"d":76},{"c":2,"t":1.55,"d":76},{"c":2,"t":1.75,"d":82},{"c":2,"t":1.95,"d":89},{"c":2,"t":2.2,"d":91},{"c":2,"t":2.6,"d":92},{"c":2,"t":3,"d":93},{"c":2,"t":3.3,"d":94},{"c":2,"t":3.7,"d":91},{"c":2,"t":4.2,"d":90},{"c":2,"t":6.5,"d":90},
{"c":3,"t":1,"d":76},{"c":3,"t":1.1,"d":74},{"c":3,"t":1.2,"d":73.5},{"c":3,"t":1.35,"d":75},{"c":3,"t":1.6,"d":76},{"c":3,"t":1.8,"d":80},{"c":3,"t":2,"d":85},{"c":3,"t":2.3,"d":88},{"c":3,"t":2.7,"d":90},{"c":3,"t":3.2,"d":91},{"c":3,"t":3.8,"d":90},{"c":3,"t":6.5,"d":90},
{"c":4,"t":1,"d":76},{"c":4,"t":1.6,"d":76},{"c":4,"t":1.8,"d":78},{"c":4,"t":2,"d":82},{"c":4,"t":2.2,"d":84},{"c":4,"t":2.5,"d":86},{"c":4,"t":2.9,"d":88},{"c":4,"t":3.3,"d":90},{"c":4,"t":3.8,"d":91},{"c":4,"t":4.2,"d":89},{"c":4,"t":6.5,"d":90},
{"c":5,"t":1,"d":76},{"c":5,"t":1.9,"d":76},{"c":5,"t":2,"d":75},{"c":5,"t":2.2,"d":69},{"c":5,"t":2.33,"d":65},{"c":5,"t":2.42,"d":66},{"c":5,"t":2.55,"d":70.5},{"c":5,"t":2.75,"d":77},{"c":5,"t":3,"d":82},{"c":5,"t":3.3,"d":86},{"c":5,"t":3.7,"d":89},{"c":5,"t":4.2,"d":89},{"c":5,"t":6.5,"d":90},
{"c":6,"t":1,"d":76},{"c":6,"t":2,"d":76},{"c":6,"t":2.4,"d":75},{"c":6,"t":2.85,"d":69},{"c":6,"t":3,"d":66},{"c":6,"t":3.12,"d":62.5},{"c":6,"t":3.22,"d":64},{"c":6,"t":3.38,"d":73.5},{"c":6,"t":3.6,"d":80},{"c":6,"t":3.9,"d":86},{"c":6,"t":4.2,"d":89},{"c":6,"t":6.5,"d":90},
{"c":7,"t":1,"d":76},{"c":7,"t":2,"d":76},{"c":7,"t":2.8,"d":76},{"c":7,"t":3.3,"d":75.5},{"c":7,"t":3.6,"d":72},{"c":7,"t":3.81,"d":67.5},{"c":7,"t":3.94,"d":66},{"c":7,"t":4,"d":65},{"c":7,"t":4.15,"d":70.5},{"c":7,"t":4.3,"d":82.7},{"c":7,"t":4.43,"d":87},{"c":7,"t":4.6,"d":89},{"c":7,"t":5,"d":89},{"c":7,"t":6.5,"d":90},
{"c":8,"t":1,"d":76},{"c":8,"t":1.7,"d":76},{"c":8,"t":1.85,"d":74},{"c":8,"t":1.95,"d":76},{"c":8,"t":2.1,"d":80},{"c":8,"t":2.4,"d":84},{"c":8,"t":2.7,"d":86},{"c":8,"t":3,"d":86},{"c":8,"t":3.4,"d":88},{"c":8,"t":3.8,"d":89},{"c":8,"t":6.5,"d":90},
{"c":9,"t":1,"d":76},{"c":9,"t":2,"d":76.5},{"c":9,"t":2.3,"d":79},{"c":9,"t":2.6,"d":82},{"c":9,"t":3,"d":84},{"c":9,"t":3.4,"d":86},{"c":9,"t":3.75,"d":85.7},{"c":9,"t":4,"d":88},{"c":9,"t":6.5,"d":90},
{"c":10,"t":1,"d":76},{"c":10,"t":1.8,"d":77},{"c":10,"t":2,"d":80},{"c":10,"t":2.3,"d":81},{"c":10,"t":2.6,"d":80},{"c":10,"t":2.9,"d":82},{"c":10,"t":3.2,"d":84},{"c":10,"t":3.5,"d":87},{"c":10,"t":3.9,"d":89},{"c":10,"t":6.5,"d":89},
{"c":11,"t":1,"d":76},{"c":11,"t":2,"d":76},{"c":11,"t":2.2,"d":77},{"c":11,"t":2.6,"d":78},{"c":11,"t":3,"d":79},{"c":11,"t":3.3,"d":82},{"c":11,"t":3.6,"d":85},{"c":11,"t":4,"d":88},{"c":11,"t":4.5,"d":88},{"c":11,"t":5,"d":87.5},{"c":11,"t":6,"d":88},{"c":11,"t":6.5,"d":90},
{"c":12,"t":1,"d":76},{"c":12,"t":1.65,"d":76},{"c":12,"t":1.85,"d":82},{"c":12,"t":2.05,"d":89},{"c":12,"t":2.4,"d":92},{"c":12,"t":2.8,"d":93},{"c":12,"t":3.2,"d":92},{"c":12,"t":3.6,"d":92},{"c":12,"t":4,"d":90},{"c":12,"t":6.5,"d":90},
{"c":13,"t":1,"d":76},{"c":13,"t":2,"d":76},{"c":13,"t":2.5,"d":77},{"c":13,"t":2.9,"d":76},{"c":13,"t":3.2,"d":78},{"c":13,"t":3.5,"d":82},{"c":13,"t":3.8,"d":86},{"c":13,"t":4.1,"d":88},{"c":13,"t":6.5,"d":90},
{"c":14,"t":1,"d":76},{"c":14,"t":1.75,"d":76},{"c":14,"t":1.95,"d":79},{"c":14,"t":2.2,"d":83},{"c":14,"t":2.6,"d":87},{"c":14,"t":3,"d":89},{"c":14,"t":3.5,"d":91},{"c":14,"t":4,"d":90},{"c":14,"t":5,"d":89},{"c":14,"t":6.5,"d":90},
{"c":15,"t":1,"d":76},{"c":15,"t":2,"d":75},{"c":15,"t":2.2,"d":74},{"c":15,"t":2.5,"d":76},{"c":15,"t":2.8,"d":80},{"c":15,"t":3.1,"d":84},{"c":15,"t":3.4,"d":88},{"c":15,"t":3.8,"d":90},{"c":15,"t":6.5,"d":90}
]
},
"vconcat": [
{
 "title": {"text": "(a)", "orient": "bottom", "anchor": "middle", "frame": "bounds", "fontWeight": "bold", "offset": 0, "dx": -218, "dy": -21.5},
 "vconcat": [{
  "width": 858, "height": 132,
  "title": {"text": "Direkte Methode frühestmöglich Abschalten (AF)", "orient": "bottom", "anchor": "middle", "frame": "bounds", "offset": 9, "dx": 15.4},
  "resolve": {"axis": {"x": "independent", "y": "independent"}},
  "layer": [
   {"data": {"name": "a"}, "mark": {"type": "line", "interpolate": "monotone", "strokeWidth": 1, "color": "#a00a0a", "opacity": 0.9, "clip": true},
    "encoding": {
     "x": {"field": "t", "type": "quantitative", "scale": {"domain": [1, 6.5], "nice": false, "zero": false}, "axis": {"orient": "bottom", "values": [1,1.5,2,2.5,3,3.5,4,4.5,5,5.5,6,6.5], "labelExpr": "replace(format(datum.value, '~g'), '.', ',')", "title": "Zeit nach Übernahmeaufforderung in s"}},
     "y": {"field": "d", "type": "quantitative", "scale": {"domain": [-10, 110], "nice": false, "zero": false}, "axis": {"orient": "left", "values": [0,50,100], "title": "δ in °"}},
     "detail": {"field": "c", "type": "nominal"}}},
   {"data": {"values": [{"ref": 90}]}, "mark": {"type": "rule", "color": "black", "strokeWidth": 1, "strokeDash": [7,5]},
    "encoding": {"y": {"field": "ref", "type": "quantitative", "axis": {"orient": "right", "values": [0,50,100], "labels": false, "title": null}}}},
   {"data": {"values": [{"t": 2}, {"t": 5}]}, "mark": {"type": "rule", "color": "black", "strokeWidth": 1, "strokeDash": [9,4,1.5,4]},
    "encoding": {"x": {"field": "t", "type": "quantitative", "axis": {"orient": "top", "values": [1,1.5,2,2.5,3,3.5,4,4.5,5,5.5,6,6.5], "labels": false, "title": null}}}}
  ]
 }]
},
{
 "title": {"text": "(b)", "orient": "bottom", "anchor": "middle", "frame": "bounds", "fontWeight": "bold", "offset": 0, "dx": -218, "dy": -21.5},
 "vconcat": [{
  "width": 858, "height": 132,
  "title": {"text": "Direkte Methode spätestmöglich Abschalten (AS)", "orient": "bottom", "anchor": "middle", "frame": "bounds", "offset": 9, "dx": 15.9},
  "resolve": {"axis": {"x": "independent", "y": "independent"}},
  "layer": [
   {"data": {"name": "b"}, "mark": {"type": "line", "interpolate": "monotone", "strokeWidth": 1, "color": "#d95319", "opacity": 0.9, "clip": true},
    "encoding": {
     "x": {"field": "t", "type": "quantitative", "scale": {"domain": [1, 6.5], "nice": false, "zero": false}, "axis": {"orient": "bottom", "values": [1,1.5,2,2.5,3,3.5,4,4.5,5,5.5,6,6.5], "labelExpr": "replace(format(datum.value, '~g'), '.', ',')", "title": "Zeit nach Übernahmeaufforderung in s"}},
     "y": {"field": "d", "type": "quantitative", "scale": {"domain": [-10, 110], "nice": false, "zero": false}, "axis": {"orient": "left", "values": [0,50,100], "title": "δ in °"}},
     "detail": {"field": "c", "type": "nominal"}}},
   {"data": {"values": [{"ref": 90}]}, "mark": {"type": "rule", "color": "black", "strokeWidth": 1, "strokeDash": [7,5]},
    "encoding": {"y": {"field": "ref", "type": "quantitative", "axis": {"orient": "right", "values": [0,50,100], "labels": false, "title": null}}}},
   {"data": {"values": [{"t": 2}, {"t": 5}]}, "mark": {"type": "rule", "color": "black", "strokeWidth": 1, "strokeDash": [9,4,1.5,4]},
    "encoding": {"x": {"field": "t", "type": "quantitative", "axis": {"orient": "top", "values": [1,1.5,2,2.5,3,3.5,4,4.5,5,5.5,6,6.5], "labels": false, "title": null}}}}
  ]
 }]
},
{
 "title": {"text": "(c)", "orient": "bottom", "anchor": "middle", "frame": "bounds", "fontWeight": "bold", "offset": 0, "dx": -247, "dy": -21.5},
 "vconcat": [{
  "width": 858, "height": 132,
  "title": {"text": "Graduelle Methode Skalierung des Reglerausgangs (GS)", "orient": "bottom", "anchor": "middle", "frame": "bounds", "offset": 9, "dx": 14.6},
  "resolve": {"axis": {"x": "independent", "y": "independent"}},
  "layer": [
   {"data": {"name": "c"}, "mark": {"type": "line", "interpolate": "monotone", "strokeWidth": 1, "color": "#edb120", "opacity": 0.9, "clip": true},
    "encoding": {
     "x": {"field": "t", "type": "quantitative", "scale": {"domain": [1, 6.5], "nice": false, "zero": false}, "axis": {"orient": "bottom", "values": [1,1.5,2,2.5,3,3.5,4,4.5,5,5.5,6,6.5], "labelExpr": "replace(format(datum.value, '~g'), '.', ',')", "title": "Zeit nach Übernahmeaufforderung in s"}},
     "y": {"field": "d", "type": "quantitative", "scale": {"domain": [-10, 110], "nice": false, "zero": false}, "axis": {"orient": "left", "values": [0,50,100], "title": "δ in °"}},
     "detail": {"field": "c", "type": "nominal"}}},
   {"data": {"values": [{"ref": 90}]}, "mark": {"type": "rule", "color": "black", "strokeWidth": 1, "strokeDash": [7,5]},
    "encoding": {"y": {"field": "ref", "type": "quantitative", "axis": {"orient": "right", "values": [0,50,100], "labels": false, "title": null}}}},
   {"data": {"values": [{"t": 2}, {"t": 5}]}, "mark": {"type": "rule", "color": "black", "strokeWidth": 1, "strokeDash": [9,4,1.5,4]},
    "encoding": {"x": {"field": "t", "type": "quantitative", "axis": {"orient": "top", "values": [1,1.5,2,2.5,3,3.5,4,4.5,5,5.5,6,6.5], "labels": false, "title": null}}}}
  ]
 }]
},
{
 "title": {"text": "(d)", "orient": "bottom", "anchor": "middle", "frame": "bounds", "fontWeight": "bold", "offset": 0, "dx": -312, "dy": -21.5},
 "vconcat": [{
  "width": 858, "height": 132,
  "title": {"text": "Graduelle Methode Reduktion der Beteiligung des Optimalreglers (GO)", "orient": "bottom", "anchor": "middle", "frame": "bounds", "offset": 9, "dx": 15.9},
  "resolve": {"axis": {"x": "independent", "y": "independent"}},
  "layer": [
   {"data": {"name": "d"}, "mark": {"type": "line", "interpolate": "monotone", "strokeWidth": 1, "color": "#77ac30", "opacity": 0.9, "clip": true},
    "encoding": {
     "x": {"field": "t", "type": "quantitative", "scale": {"domain": [1, 6.5], "nice": false, "zero": false}, "axis": {"orient": "bottom", "values": [1,1.5,2,2.5,3,3.5,4,4.5,5,5.5,6,6.5], "labelExpr": "replace(format(datum.value, '~g'), '.', ',')", "title": "Zeit nach Übernahmeaufforderung in s"}},
     "y": {"field": "d", "type": "quantitative", "scale": {"domain": [-10, 110], "nice": false, "zero": false}, "axis": {"orient": "left", "values": [0,50,100], "title": "δ in °"}},
     "detail": {"field": "c", "type": "nominal"}}},
   {"data": {"values": [{"ref": 90}]}, "mark": {"type": "rule", "color": "black", "strokeWidth": 1, "strokeDash": [7,5]},
    "encoding": {"y": {"field": "ref", "type": "quantitative", "axis": {"orient": "right", "values": [0,50,100], "labels": false, "title": null}}}},
   {"data": {"values": [{"t": 2}, {"t": 5}]}, "mark": {"type": "rule", "color": "black", "strokeWidth": 1, "strokeDash": [9,4,1.5,4]},
    "encoding": {"x": {"field": "t", "type": "quantitative", "axis": {"orient": "top", "values": [1,1.5,2,2.5,3,3.5,4,4.5,5,5.5,6,6.5], "labels": false, "title": null}}}}
  ]
 }]
},
{
 "title": {"text": "(e)", "orient": "bottom", "anchor": "middle", "frame": "bounds", "fontWeight": "bold", "offset": 0, "dx": -184, "dy": -21.5},
 "vconcat": [{
  "width": 858, "height": 132,
  "title": {"text": "Graduelle Methode Differentialspiel (GD)", "orient": "bottom", "anchor": "middle", "frame": "bounds", "offset": 9, "dx": 14.6},
  "resolve": {"axis": {"x": "independent", "y": "independent"}},
  "layer": [
   {"data": {"name": "e"}, "mark": {"type": "line", "interpolate": "monotone", "strokeWidth": 1, "color": "#129a12", "opacity": 0.9, "clip": true},
    "encoding": {
     "x": {"field": "t", "type": "quantitative", "scale": {"domain": [1, 6.5], "nice": false, "zero": false}, "axis": {"orient": "bottom", "values": [1,1.5,2,2.5,3,3.5,4,4.5,5,5.5,6,6.5], "labelExpr": "replace(format(datum.value, '~g'), '.', ',')", "title": "Zeit nach Übernahmeaufforderung in s"}},
     "y": {"field": "d", "type": "quantitative", "scale": {"domain": [-10, 110], "nice": false, "zero": false}, "axis": {"orient": "left", "values": [0,50,100], "title": "δ in °"}},
     "detail": {"field": "c", "type": "nominal"}}},
   {"data": {"values": [{"ref": 90}]}, "mark": {"type": "rule", "color": "black", "strokeWidth": 1, "strokeDash": [7,5]},
    "encoding": {"y": {"field": "ref", "type": "quantitative", "axis": {"orient": "right", "values": [0,50,100], "labels": false, "title": null}}}},
   {"data": {"values": [{"t": 2}, {"t": 5}]}, "mark": {"type": "rule", "color": "black", "strokeWidth": 1, "strokeDash": [9,4,1.5,4]},
    "encoding": {"x": {"field": "t", "type": "quantitative", "axis": {"orient": "top", "values": [1,1.5,2,2.5,3,3.5,4,4.5,5,5.5,6,6.5], "labels": false, "title": null}}}}
  ]
 }]
}
]
}
